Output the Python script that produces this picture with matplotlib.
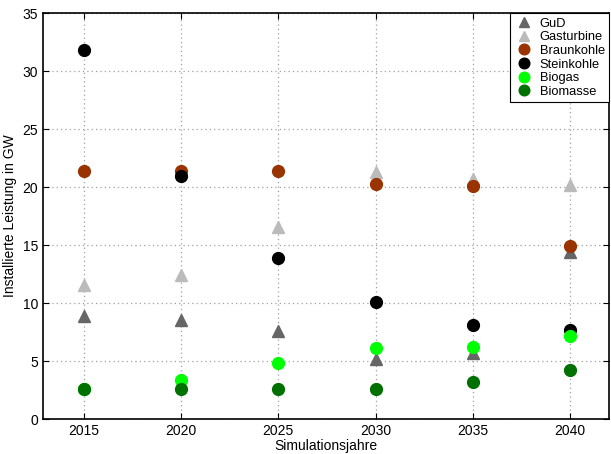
import matplotlib
matplotlib.use("Agg")
from matplotlib import pyplot as plt

plt.rcParams['font.family'] = ['Liberation Sans', 'DejaVu Sans']

jahre = [2015, 2020, 2025, 2030, 2035, 2040]
gud = [8.9, 8.5, 7.6, 5.2, 5.7, 14.4]
gasturbine = [11.6, 12.4, 16.6, 21.3, 20.7, 20.2]
braunkohle = [21.4, 21.4, 21.4, 20.3, 20.1, 14.9]
steinkohle = [31.8, 21.0, 13.9, 10.1, 8.1, 7.7]
biogas = [2.6, 3.4, 4.8, 6.1, 6.2, 7.2]
biomasse = [2.6, 2.6, 2.6, 2.6, 3.2, 4.2]

serien = [
    ("GuD", gud, "^", "#666666"),
    ("Gasturbine", gasturbine, "^", "#bbbbbb"),
    ("Braunkohle", braunkohle, "o", "#993300"),
    ("Steinkohle", steinkohle, "o", "#000000"),
    ("Biogas", biogas, "o", "#00ff00"),
    ("Biomasse", biomasse, "o", "#007000"),
]

fig = plt.figure(figsize=(6.11, 4.54), dpi=100)
ax = fig.add_axes([0.070, 0.077, 0.927, 0.894])

for name, werte, marker, farbe in serien:
    ax.plot(jahre, werte, linestyle="none", marker=marker, markersize=8.5,
            color=farbe, markeredgecolor=farbe, label=name)

ax.set_xlim(2012.9, 2042)
ax.set_ylim(0, 35)
ax.set_xticks(jahre)
ax.set_yticks(range(0, 36, 5))
ax.grid(True, linestyle=(0, (1, 2.5)), color="#a0a0a0", linewidth=0.9)
ax.tick_params(direction="in", top=True, right=True, labelsize=10, length=4)
for s in ax.spines.values():
    s.set_linewidth(1.2)

ax.set_xlabel("Simulationsjahre", fontsize=10, labelpad=1)
ax.set_ylabel("Installierte Leistung in GW", fontsize=10, labelpad=4)

leg = ax.legend(loc="upper right", fontsize=9.3, fancybox=False, framealpha=1,
                edgecolor="black", borderaxespad=0, handletextpad=0.5,
                labelspacing=0.12, borderpad=0.35, handlelength=1.4,
                markerscale=0.9)
leg.get_frame().set_linewidth(0.8)

fig.savefig("out.png", dpi=100)
